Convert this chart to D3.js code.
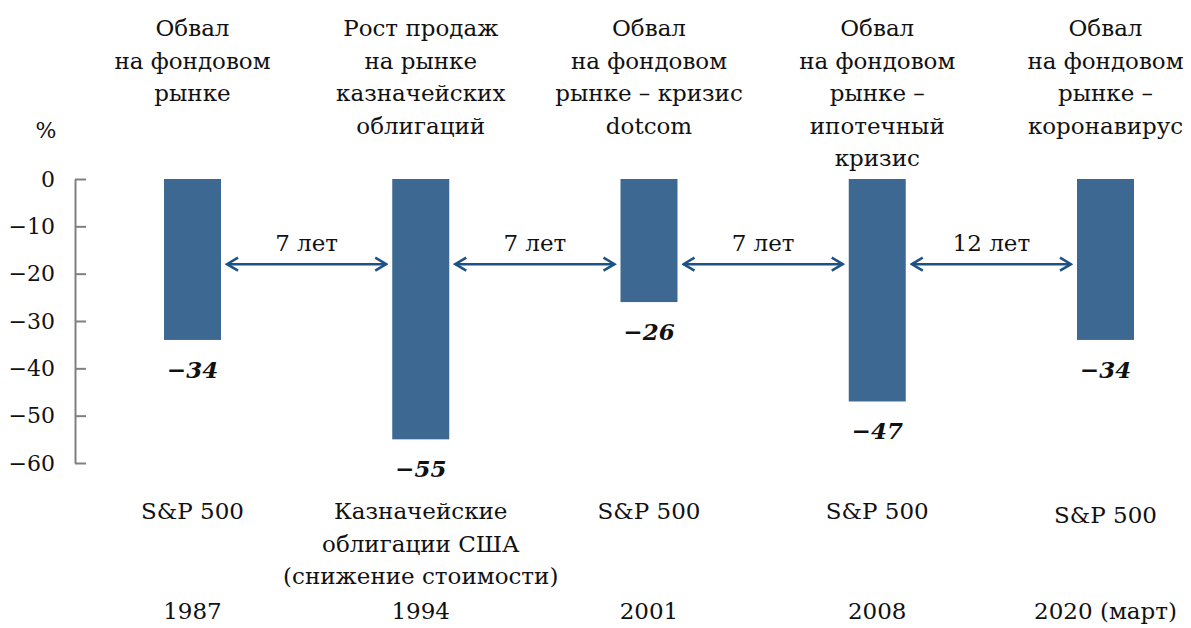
<!DOCTYPE html>
<html>
<head>
<meta charset="utf-8">
<script src="https://cdn.jsdelivr.net/npm/d3@7"></script>
<style>
  body { margin: 0; background: #fff; }
  text { font-family: "DejaVu Serif", serif; fill: #111; }
</style>
</head>
<body>
<svg id="chart"></svg>
<script>
/* ===============================
   Data
================================ */

const years = ["1987", "1994", "2001", "2008", "2020 (март)"];
const values = [-34, -55, -26, -47, -34];
const titles = [
  ["Обвал", "на фондовом", "рынке"],
  ["Рост продаж", "на рынке", "казначейских", "облигаций"],
  ["Обвал", "на фондовом", "рынке – кризис", "dotcom"],
  ["Обвал", "на фондовом", "рынке –", "ипотечный", "кризис"],
  ["Обвал", "на фондовом", "рынке –", "коронавирус"]
];
const assets = [
  ["S&P 500"],
  ["Казначейские", "облигации США", "(снижение стоимости)"],
  ["S&P 500"],
  ["S&P 500"],
  ["S&P 500"]
];
const gaps = ["7 лет", "7 лет", "7 лет", "12 лет"];
const gapLevel = -18;
const yTicks = [0, -10, -20, -30, -40, -50, -60];

/* ===============================
   Setup
================================ */

const width = 1191;
const height = 628;
const BAR_W = 57;
const LINE_H = 32.5;
const FONT = 23;
const BAR_COLOR = "#3d6891";
const ARROW_COLOR = "#1d5287";

const svg = d3.select("#chart")
  .attr("width", width)
  .attr("height", height);

const x = d3.scalePoint()
  .domain(years)
  .range([192.5, 1105.5]);

const y = d3.scaleLinear()
  .domain([0, -60])
  .range([179, 463]);

const fmt = v => String(v).replace("-", "−");

/* -------- axis -------- */

const axis = svg.append("g")
  .attr("transform", "translate(75,0)")
  .call(d3.axisLeft(y)
    .tickValues(yTicks)
    .tickSizeInner(-11)
    .tickSizeOuter(0)
    .tickPadding(20)
    .tickFormat(fmt));

axis.select(".domain").attr("stroke", "#808080").attr("stroke-width", 2);
axis.selectAll(".tick line").attr("stroke", "#808080").attr("stroke-width", 2);
axis.selectAll(".tick text")
  .attr("font-size", 22)
  .attr("font-family", "DejaVu Serif")
  .attr("fill", "#111");

svg.append("text")
  .attr("x", 46)
  .attr("y", 138)
  .attr("text-anchor", "middle")
  .attr("font-size", 22)
  .text("%");

/* -------- bars -------- */

svg.selectAll(".bar")
  .data(values)
  .join("rect")
  .attr("class", "bar")
  .attr("x", (d, i) => x(years[i]) - BAR_W / 2)
  .attr("y", y(0))
  .attr("width", BAR_W)
  .attr("height", d => y(d) - y(0))
  .attr("fill", BAR_COLOR);

svg.selectAll(".val")
  .data(values)
  .join("text")
  .attr("class", "val")
  .attr("x", (d, i) => x(years[i]))
  .attr("y", d => y(d) + 38)
  .attr("text-anchor", "middle")
  .attr("font-size", 23)
  .attr("font-weight", "bold")
  .attr("font-style", "italic")
  .text(fmt);

/* -------- arrows -------- */

const defs = svg.append("defs");
["start", "end"].forEach(k => {
  defs.append("marker")
    .attr("id", "arrow-" + k)
    .attr("viewBox", "0 0 16 16")
    .attr("refX", k === "end" ? 14 : 2)
    .attr("refY", 8)
    .attr("markerWidth", 16)
    .attr("markerHeight", 16)
    .attr("markerUnits", "userSpaceOnUse")
    .attr("orient", "auto")
    .append("path")
    .attr("d", k === "end" ? "M3,1.5 L14,8 L3,14.5" : "M13,1.5 L2,8 L13,14.5")
    .attr("fill", "none")
    .attr("stroke", ARROW_COLOR)
    .attr("stroke-width", 2.5);
});

const gapG = svg.selectAll(".gap")
  .data(gaps)
  .join("g")
  .attr("class", "gap");

gapG.append("line")
  .attr("x1", (d, i) => x(years[i]) + BAR_W / 2 + 6)
  .attr("x2", (d, i) => x(years[i + 1]) - BAR_W / 2 - 6)
  .attr("y1", y(gapLevel))
  .attr("y2", y(gapLevel))
  .attr("stroke", ARROW_COLOR)
  .attr("stroke-width", 2.5)
  .attr("marker-start", "url(#arrow-start)")
  .attr("marker-end", "url(#arrow-end)");

gapG.append("text")
  .attr("x", (d, i) => (x(years[i]) + x(years[i + 1])) / 2)
  .attr("y", y(gapLevel) - 13)
  .attr("text-anchor", "middle")
  .attr("font-size", FONT)
  .text(d => d);

/* -------- titles / labels -------- */

function multiline(sel, lines, x0, y0) {
  lines.forEach((t, j) => {
    sel.append("text")
      .attr("x", x0)
      .attr("y", y0 + j * LINE_H)
      .attr("text-anchor", "middle")
      .attr("font-size", FONT)
      .text(t);
  });
}

titles.forEach((lines, i) => multiline(svg, lines, x(years[i]), 36));
assets.forEach((lines, i) => multiline(svg, lines, x(years[i]), i === 4 ? 523 : 519));

svg.selectAll(".year")
  .data(years)
  .join("text")
  .attr("class", "year")
  .attr("x", d => x(d))
  .attr("y", 619)
  .attr("text-anchor", "middle")
  .attr("font-size", FONT)
  .text(d => d);
</script>
</body>
</html>
